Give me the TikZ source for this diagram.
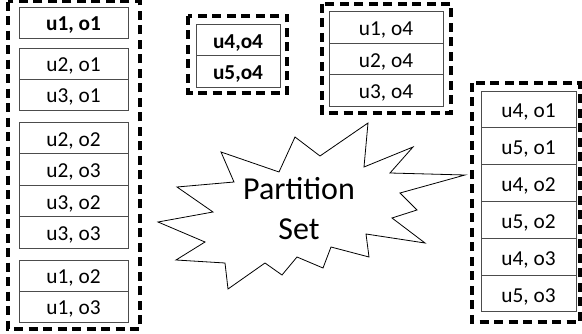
\documentclass[tikz,border=0pt]{standalone}
\usepackage{fontspec}
\setmainfont{Carlito}
\tikzset{
  cell/.style={draw=black!70, line width=0.9pt, inner sep=0pt,
    text height=17pt, text depth=0pt,
    font=\fontsize{21.3}{25}\selectfont},
  boldcell/.style={cell, font=\fontsize{21.3}{25}\selectfont\bfseries},
  frame/.style={line width=3.3pt, dash pattern=on 9pt off 5.5pt},
}
\begin{document}
\begin{tikzpicture}[x=1pt,y=-1pt]
  \useasboundingbox (0,0) rectangle (582,334);
  % left group
  \draw[frame] (8,1.6) rectangle (140,329);
  \begin{scope}[every node/.append style={minimum width=109pt, minimum height=31pt}]
    \draw
      (73.5,22.5) node[boldcell] (l1){u1, o1}
      (73.5,63.5) node[cell] (l2){u2, o1}
      (73.5,94.5) node[cell] (l3){u3, o1}
      (73.5,137.75) node[cell, minimum height=31.5pt] (l4){u2, o2}
      (73.5,169.25) node[cell, minimum height=31.5pt] (l5){u2, o3}
      (73.5,200.75) node[cell, minimum height=31.5pt] (l6){u3, o2}
      (73.5,232.25) node[cell, minimum height=31.5pt] (l7){u3, o3}
      (73.5,275.5) node[cell] (l8){u1, o2}
      (73.5,306.5) node[cell] (l9){u1, o3};
  \end{scope}
  % top middle group
  \draw[frame] (188,16) rectangle (287,93);
  \begin{scope}[every node/.append style={minimum width=84pt, minimum height=31.5pt}]
    \draw
      (238,40) node[boldcell] (m1){u4,o4}
      (238,71.5) node[boldcell] (m2){u5,o4};
  \end{scope}
  % top right group
  \draw[frame] (322,4) rectangle (451,113);
  \begin{scope}[every node/.append style={minimum width=114pt, minimum height=31.5pt}]
    \draw
      (386,27.5) node[cell] (t1){u1, o4}
      (386,59) node[cell] (t2){u2, o4}
      (386,90.5) node[cell] (t3){u3, o4};
  \end{scope}
  % right group
  \draw[frame] (472,83) rectangle (580,322);
  \begin{scope}[every node/.append style={minimum width=95pt, minimum height=36.8pt}]
    \draw
      (528.5,109.5) node[cell] (r1){u4, o1}
      (528.5,146.3) node[cell] (r2){u5, o1}
      (528.5,183.1) node[cell] (r3){u4, o2}
      (528.5,219.9) node[cell] (r4){u5, o2}
      (528.5,256.7) node[cell] (r5){u4, o3}
      (528.5,293.5) node[cell] (r6){u5, o3};
  \end{scope}
  % burst
  \draw[line width=0.8pt, fill=white]
    (221,152) -- (279,172) -- (295,137) -- (320,156) -- (368,123) -- (364,167)
    -- (413,147) -- (390,173) -- (465,175) -- (400,193) -- (417,210) -- (392,218)
    -- (425,243) -- (366,234) -- (369,257) -- (331,247) -- (323,268) -- (297,257)
    -- (282,275) -- (265,263) -- (228,289) -- (225,263) -- (176,260) -- (205,242)
    -- (158,222) -- (213,212) -- (177,187) -- (234,182) -- cycle;
  \node[align=center, anchor=base, font=\fontsize{32}{40}\selectfont] (ps) at (299,240) {Partition\\Set};
\end{tikzpicture}
\end{document}
